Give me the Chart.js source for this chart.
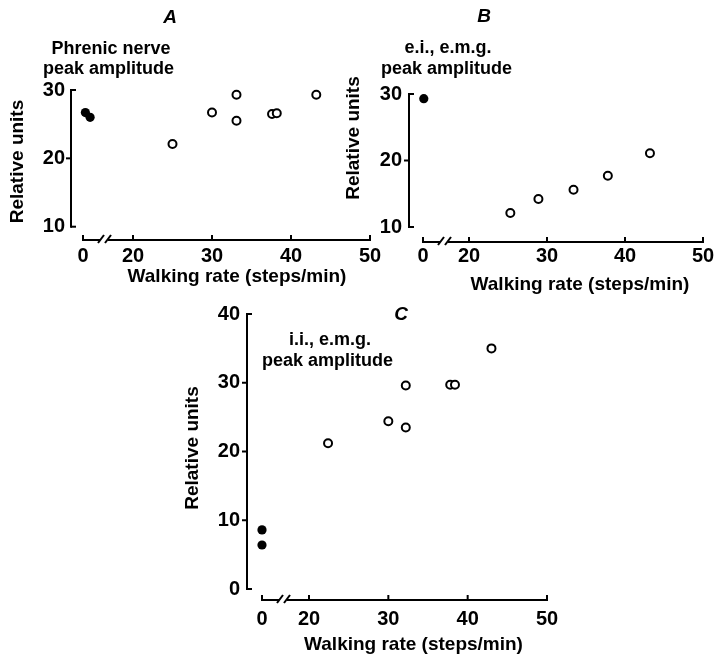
<!DOCTYPE html>
<html>
<head>
<meta charset="utf-8">
<title>Peak amplitude vs walking rate</title>
<script src="https://cdn.jsdelivr.net/npm/chart.js@4.4.1/dist/chart.umd.min.js"></script>
<style>
  html, body { margin: 0; padding: 0; background: #fff; overflow: hidden; }
  #wrap { position: relative; width: 717px; height: 659px; overflow: hidden; }
  #wrap canvas { position: absolute; left: 0; top: 0; }
</style>
</head>
<body>
<div id="wrap">
  <canvas id="chartA" width="800" height="659"></canvas>
  <canvas id="chartB" width="800" height="659"></canvas>
  <canvas id="chartC" width="800" height="659"></canvas>
</div>
<script>
// walking rate in steps/min, 0 = at rest (left of the axis break)
const xTicks = [0, 20, 30, 40, 50];

// A - phrenic nerve peak amplitude
const restA_x = [0.3, 0.9];
const restA_y = [26.7, 26.0];
const walkA_x = [25.0, 30.0, 33.1, 33.1, 37.6, 38.2, 43.2];
const walkA_y = [22.1, 26.7, 29.3, 25.5, 26.5, 26.6, 29.3];
const yTicksA = [10, 20, 30];

// B - e.i. e.m.g. peak amplitude
const restB_x = [0.1];
const restB_y = [29.3];
const walkB_x = [25.3, 28.9, 33.4, 37.8, 43.2];
const walkB_y = [12.1, 14.2, 15.6, 17.7, 21.1];
const yTicksB = [10, 20, 30];

// C - i.i. e.m.g. peak amplitude
const restC_x = [0, 0];
const restC_y = [8.6, 6.4];
const walkC_x = [22.4, 30.0, 32.2, 32.2, 37.8, 38.4, 43.0];
const walkC_y = [21.2, 24.4, 29.6, 23.5, 29.7, 29.7, 35.0];
const yTicksC = [0, 10, 20, 30, 40];

// canvases are wider than the page so panel B's x title can stay centred
const W = 800, H = 659;
const FONT = '"Liberation Sans", Arial, sans-serif';
const TICK_SIZE = 20, TITLE_SIZE = 19, NOTE_SIZE = 18;
const MARK = 5;

Chart.defaults.font.family = FONT;
Chart.defaults.color = '#000';

// page layout of each panel (pixels)
const layoutA = {
  x0: 83, x20: 133, x50: 370, yHi: 90, yLo: 226.7, yAxis: 71, xAxis: 240,
  xTitle: [237, 276.5], yTitle: [18, 161.5], yLabelRight: 65, xLabelMid: 256.5,
  letter: ['A', 170, 23],
  notes: [['Phrenic nerve', 111, 54], ['peak amplitude', 108.5, 74]]
};
const layoutB = {
  x0: 423, x20: 469, x50: 703, yHi: 94, yLo: 227, yAxis: 409, xAxis: 242,
  xTitle: [580, 284.5], yTitle: [354, 138], yLabelRight: 402, xLabelMid: 256,
  letter: ['B', 484, 22],
  notes: [['e.i., e.m.g.', 448, 53], ['peak amplitude', 446.5, 74]]
};
const layoutC = {
  x0: 262, x20: 309, x50: 547, yHi: 314, yLo: 589, yAxis: 247, xAxis: 600,
  xTitle: [413.5, 644.5], yTitle: [193, 448], yLabelRight: 240, xLabelMid: 619.5,
  letter: ['C', 401, 320],
  notes: [['i.i., e.m.g.', 330, 345], ['peak amplitude', 327.5, 366]]
};

function line(ctx, x1, y1, x2, y2) {
  ctx.beginPath();
  ctx.moveTo(x1, y1);
  ctx.lineTo(x2, y2);
  ctx.stroke();
}

function buildPanel(id, lay, yTicks, restX, restY, walkX, walkY) {
  const ux = (lay.x50 - lay.x20) / 30;
  const zero = 20 - (lay.x20 - lay.x0) / ux;     // where "0" sits before the break
  const vLo = yTicks[0], vHi = yTicks[yTicks.length - 1];
  const uy = (lay.yLo - lay.yHi) / (vHi - vLo);
  // chart area starts at the y axis line and is sized so both titles centre right
  const left = lay.yAxis;
  const right = 2 * lay.xTitle[0] - left;
  const bottom = lay.xAxis;
  const top = 2 * lay.yTitle[1] - bottom;
  const half = TITLE_SIZE * 1.2 / 2;
  const yBoxLeft = lay.yTitle[0] - half;
  const xBoxBottom = lay.xTitle[1] + half;
  const xMin = 50 - (lay.x50 - left) / ux;
  const xMax = 50 + (right - lay.x50) / ux;
  const yMin = vHi - (bottom - lay.yHi) / uy;
  const yMax = vHi + (lay.yHi - top) / uy;

  const toAxis = x => (x < 20 ? zero + x : x);
  const pts = (xs, ys) => xs.map((x, i) => ({ x: toAxis(x), y: ys[i] }));

  const axesPlugin = {
    id: 'brokenAxes',
    beforeDatasetsDraw(chart) {
      const { ctx, scales: { x, y } } = chart;
      const ax = chart.chartArea.left;
      const ay = chart.chartArea.bottom;
      ctx.save();
      ctx.strokeStyle = '#000';
      ctx.lineWidth = 2;

      // y axis, end ticks inward, inner ticks outward
      line(ctx, ax, y.getPixelForValue(vHi) - 1, ax, y.getPixelForValue(vLo) + 1);
      yTicks.forEach((v, i) => {
        const py = y.getPixelForValue(v);
        const end = i === 0 || i === yTicks.length - 1;
        line(ctx, ax, py, end ? ax + MARK : ax - MARK, py);
      });

      // x axis with a break after 0
      const p0 = x.getPixelForValue(zero);
      const p50 = x.getPixelForValue(50);
      const b = p0 + 15;
      line(ctx, p0 - 1, ay, b + 2, ay);
      line(ctx, b, ay + 3, b + 6, ay - 5);
      line(ctx, b + 7, ay + 3, b + 13, ay - 5);
      line(ctx, b + 10, ay, p50 + 1, ay);
      xTicks.forEach(v => {
        const px = x.getPixelForValue(toAxis(v));
        line(ctx, px, ay, px, ay - MARK);
      });
      ctx.restore();
    },
    afterDraw(chart) {
      const ctx = chart.ctx;
      ctx.save();
      ctx.fillStyle = '#000';
      ctx.textAlign = 'center';
      ctx.textBaseline = 'alphabetic';
      ctx.font = 'italic bold 19px ' + FONT;
      ctx.fillText(lay.letter[0], lay.letter[1], lay.letter[2]);
      ctx.font = 'bold ' + NOTE_SIZE + 'px ' + FONT;
      lay.notes.forEach(n => ctx.fillText(n[0], n[1], n[2]));
      ctx.restore();
    }
  };

  return new Chart(document.getElementById(id), {
    type: 'scatter',
    data: {
      datasets: [{
        label: 'rest',
        data: pts(restX, restY),
        pointRadius: 4.6,
        backgroundColor: '#000',
        borderColor: '#000',
        borderWidth: 0,
        clip: false
      }, {
        label: 'walking',
        data: pts(walkX, walkY),
        pointRadius: 4,
        backgroundColor: '#fff',
        borderColor: '#000',
        borderWidth: 2,
        clip: false
      }]
    },
    options: {
      responsive: false,
      animation: false,
      devicePixelRatio: 1,
      events: [],
      layout: {
        padding: { left: yBoxLeft, top: top, right: W - right, bottom: H - xBoxBottom }
      },
      plugins: {
        legend: { display: false },
        tooltip: { enabled: false }
      },
      scales: {
        x: {
          type: 'linear',
          bounds: 'data',
          afterDataLimits: s => { s.min = xMin; s.max = xMax; },
          afterBuildTicks: s => { s.ticks = xTicks.map(v => ({ value: toAxis(v) })); },
          afterFit: s => {
            s.height = xBoxBottom - bottom;
            s.paddingLeft = 0;
            s.paddingRight = 0;
          },
          grid: { display: false, drawTicks: false },
          border: { display: false },
          ticks: {
            autoSkip: false,
            maxRotation: 0,
            padding: lay.xLabelMid - bottom - TICK_SIZE * 0.6,
            font: { size: TICK_SIZE, weight: 'bold' },
            callback: (v, i) => String(xTicks[i])
          },
          title: {
            display: true,
            text: 'Walking rate (steps/min)',
            font: { size: TITLE_SIZE, weight: 'bold' },
            padding: 0
          }
        },
        y: {
          type: 'linear',
          bounds: 'data',
          afterDataLimits: s => { s.min = yMin; s.max = yMax; },
          afterBuildTicks: s => { s.ticks = yTicks.map(v => ({ value: v })); },
          afterFit: s => {
            s.width = left - yBoxLeft;
            s.paddingTop = 0;
            s.paddingBottom = 0;
          },
          grid: { display: false, drawTicks: false },
          border: { display: false },
          ticks: {
            autoSkip: false,
            padding: left - lay.yLabelRight,
            font: { size: TICK_SIZE, weight: 'bold' },
            callback: v => String(v)
          },
          title: {
            display: true,
            text: 'Relative units',
            font: { size: TITLE_SIZE, weight: 'bold' },
            padding: 0
          }
        }
      }
    },
    plugins: [axesPlugin]
  });
}

buildPanel('chartA', layoutA, yTicksA, restA_x, restA_y, walkA_x, walkA_y);
buildPanel('chartB', layoutB, yTicksB, restB_x, restB_y, walkB_x, walkB_y);
buildPanel('chartC', layoutC, yTicksC, restC_x, restC_y, walkC_x, walkC_y);
</script>
</body>
</html>
